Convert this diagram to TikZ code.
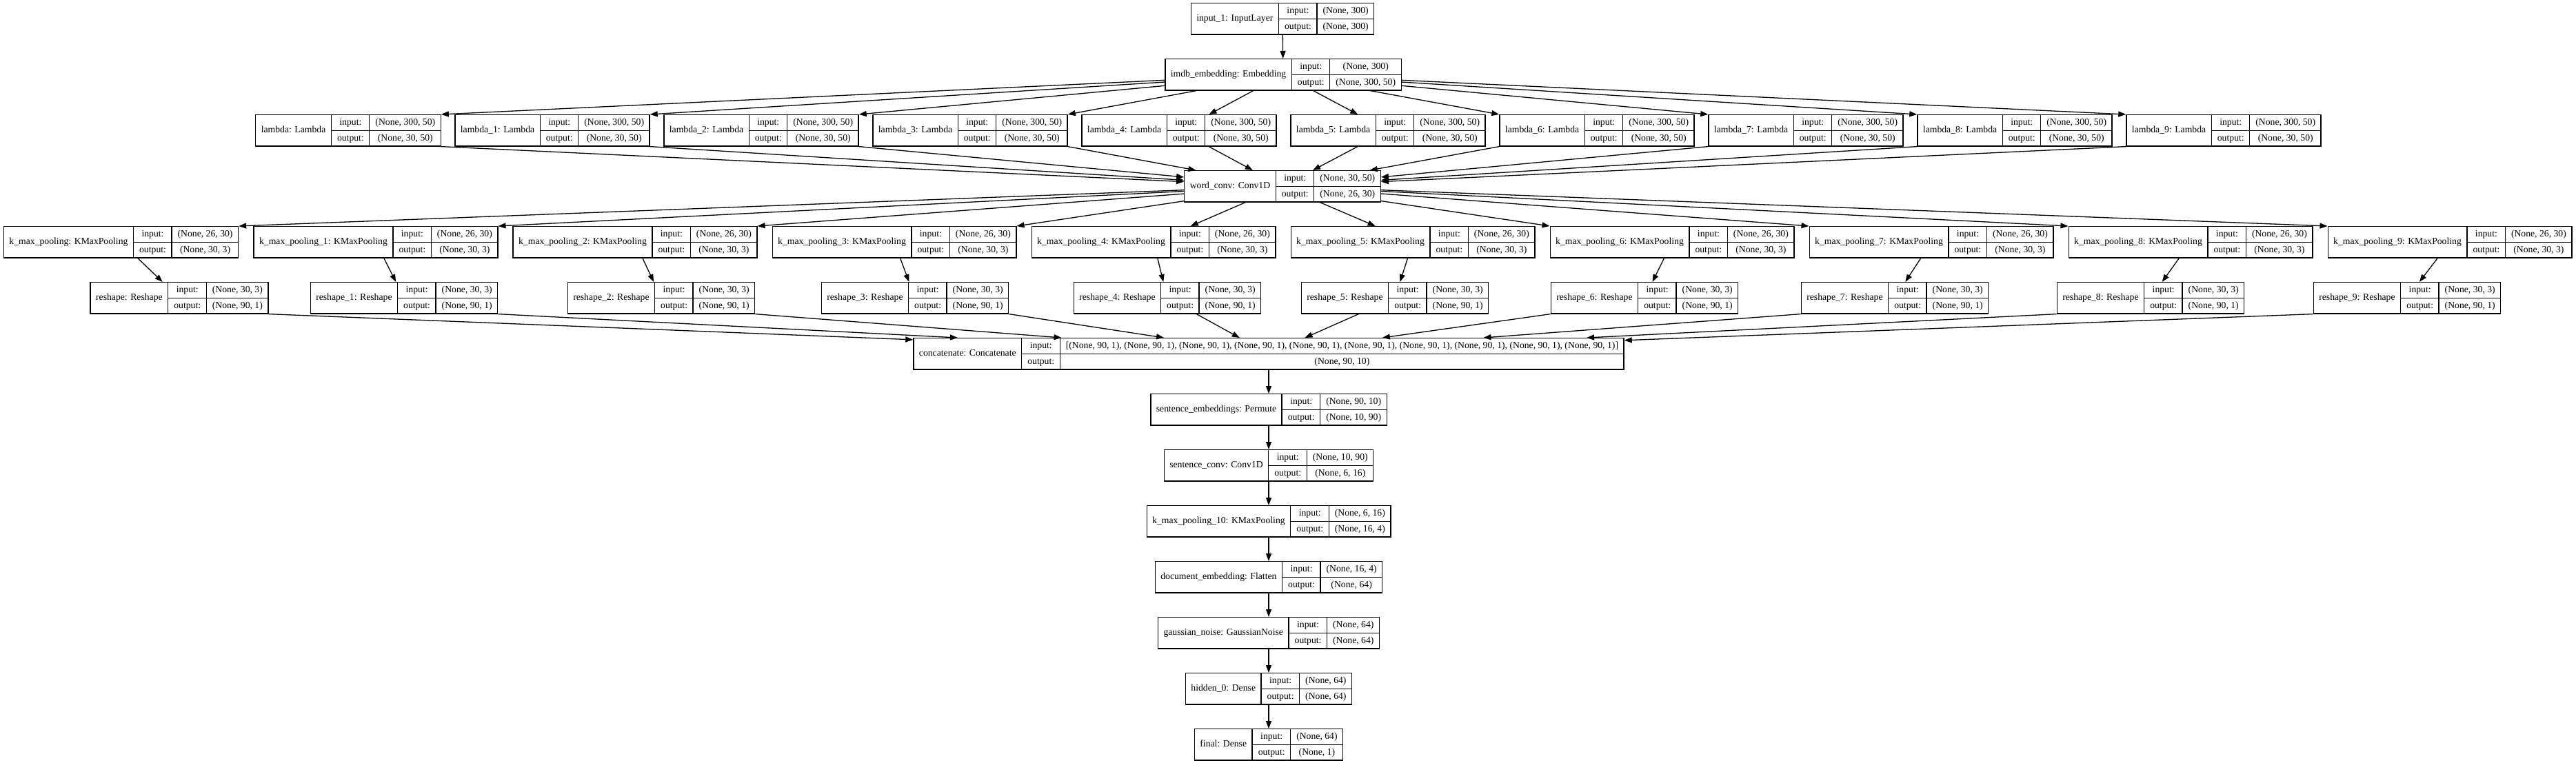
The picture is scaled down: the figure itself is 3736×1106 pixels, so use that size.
\documentclass[tikz,border=0pt]{standalone}
\usepackage{fontspec}
\setmainfont{Liberation Serif}
\usepackage{tikz}
\usetikzlibrary{
  arrows.meta,  % Triangle arrow tips
  positioning   % relative placement
}

\setlength\arrayrulewidth{1.3pt}
\newcommand\lfont{\fontsize{13.7pt}{16pt}\selectfont}
\newcommand\rowstrut{\rule[-7pt]{0pt}{22pt}}

\tikzset{
  record/.style={draw, line width=1.3pt, inner sep=0pt, anchor=north, font=\lfont},
  edge/.style={->, line width=1.3pt}
}

% record of one layer: id, centre x, top y, name, input shape, output shape
\newcommand\layerbox[6]{%
  \node[record] (#1) at (#2,#3) {%
    \begin{tabular}{@{\hspace{8pt}}c@{\hspace{8pt}}|@{}c@{}}
      #4 &
      \begin{tabular}{@{\hspace{8pt}}c@{\hspace{8pt}}|@{\hspace{8pt}}c@{\hspace{8pt}}}
        \rowstrut input: & #5\\\hline
        \rowstrut output: & #6
      \end{tabular}
    \end{tabular}};
}

\begin{document}
\begin{tikzpicture}[x=1pt, y=-1pt, >={Triangle[length=11pt, width=8pt]}]
  \useasboundingbox (0,0) rectangle (3736,1106);

  % ===== input and embedding =====
  \layerbox{inp}{1860}{4}{input\_1: InputLayer}{(None, 300)}{(None, 300)}
  \layerbox{emb}{1861}{85}{imdb\_embedding: Embedding}{(None, 300)}{(None, 300, 50)}

  % ===== lambda slices =====
  \layerbox{lam0}{505}{166}{lambda: Lambda}{(None, 300, 50)}{(None, 30, 50)}
  \foreach \i [evaluate=\i as \x using 801+(\i-1)*303] in {1,...,9} {
    \layerbox{lam\i}{\x}{166}{lambda\_\i: Lambda}{(None, 300, 50)}{(None, 30, 50)}
  }

  % ===== shared convolution =====
  \layerbox{wconv}{1860}{247}{word\_conv: Conv1D}{(None, 30, 50)}{(None, 26, 30)}

  % ===== k-max pooling =====
  \layerbox{kmp0}{175.5}{328}{k\_max\_pooling: KMaxPooling}{(None, 26, 30)}{(None, 30, 3)}
  \foreach \i [evaluate=\i as \x using 545+(\i-1)*376] in {1,...,9} {
    \layerbox{kmp\i}{\x}{328}{k\_max\_pooling\_\i: KMaxPooling}{(None, 26, 30)}{(None, 30, 3)}
  }

  % ===== reshape =====
  \layerbox{rs0}{260}{409}{reshape: Reshape}{(None, 30, 3)}{(None, 90, 1)}
  \foreach \i/\x in {1/586, 2/959, 3/1327, 4/1693, 5/2023, 6/2385, 7/2748, 8/3119, 9/3491} {
    \layerbox{rs\i}{\x}{409}{reshape\_\i: Reshape}{(None, 30, 3)}{(None, 90, 1)}
  }

  % ===== concatenate and document chain =====
  \layerbox{cat}{1840}{490}{concatenate: Concatenate}
    {[(None, 90, 1), (None, 90, 1), (None, 90, 1), (None, 90, 1), (None, 90, 1), (None, 90, 1), (None, 90, 1), (None, 90, 1), (None, 90, 1), (None, 90, 1)]}
    {(None, 90, 10)}
  \layerbox{perm}{1840}{571}{sentence\_embeddings: Permute}{(None, 90, 10)}{(None, 10, 90)}
  \layerbox{sconv}{1840}{652}{sentence\_conv: Conv1D}{(None, 10, 90)}{(None, 6, 16)}
  \layerbox{kmp10}{1840}{733}{k\_max\_pooling\_10: KMaxPooling}{(None, 6, 16)}{(None, 16, 4)}
  \layerbox{flat}{1840}{814}{document\_embedding: Flatten}{(None, 16, 4)}{(None, 64)}
  \layerbox{noise}{1840}{895}{gaussian\_noise: GaussianNoise}{(None, 64)}{(None, 64)}
  \layerbox{hid}{1840}{976}{hidden\_0: Dense}{(None, 64)}{(None, 64)}
  \layerbox{fin}{1840}{1057}{final: Dense}{(None, 64)}{(None, 1)}

  % ===== connectors =====
  \draw[edge] (inp) -- (emb);
  % left branches meet their boxes at the inner corners
  \foreach \i in {0,...,3} {
    \draw[edge] (emb) -- (lam\i.north east);
    \draw[edge] (lam\i.south east) -- (wconv);
    \draw[edge] (wconv) -- (kmp\i.north east);
    \draw[edge] (rs\i.south east) -- (cat);
  }
  % middle branches
  \foreach \i in {4,5} {
    \draw[edge] (emb) -- (lam\i);
    \draw[edge] (lam\i) -- (wconv);
    \draw[edge] (wconv) -- (kmp\i);
    \draw[edge] (rs\i) -- (cat);
  }
  % right branches
  \foreach \i in {6,...,9} {
    \draw[edge] (emb) -- (lam\i.north west);
    \draw[edge] (lam\i.south west) -- (wconv);
    \draw[edge] (wconv) -- (kmp\i.north west);
    \draw[edge] (rs\i.south west) -- (cat);
  }
  \foreach \i in {0,...,9}
    \draw[edge] (kmp\i) -- (rs\i);

  \draw[edge] (cat) -- (perm);
  \draw[edge] (perm) -- (sconv);
  \draw[edge] (sconv) -- (kmp10);
  \draw[edge] (kmp10) -- (flat);
  \draw[edge] (flat) -- (noise);
  \draw[edge] (noise) -- (hid);
  \draw[edge] (hid) -- (fin);
\end{tikzpicture}
\end{document}
